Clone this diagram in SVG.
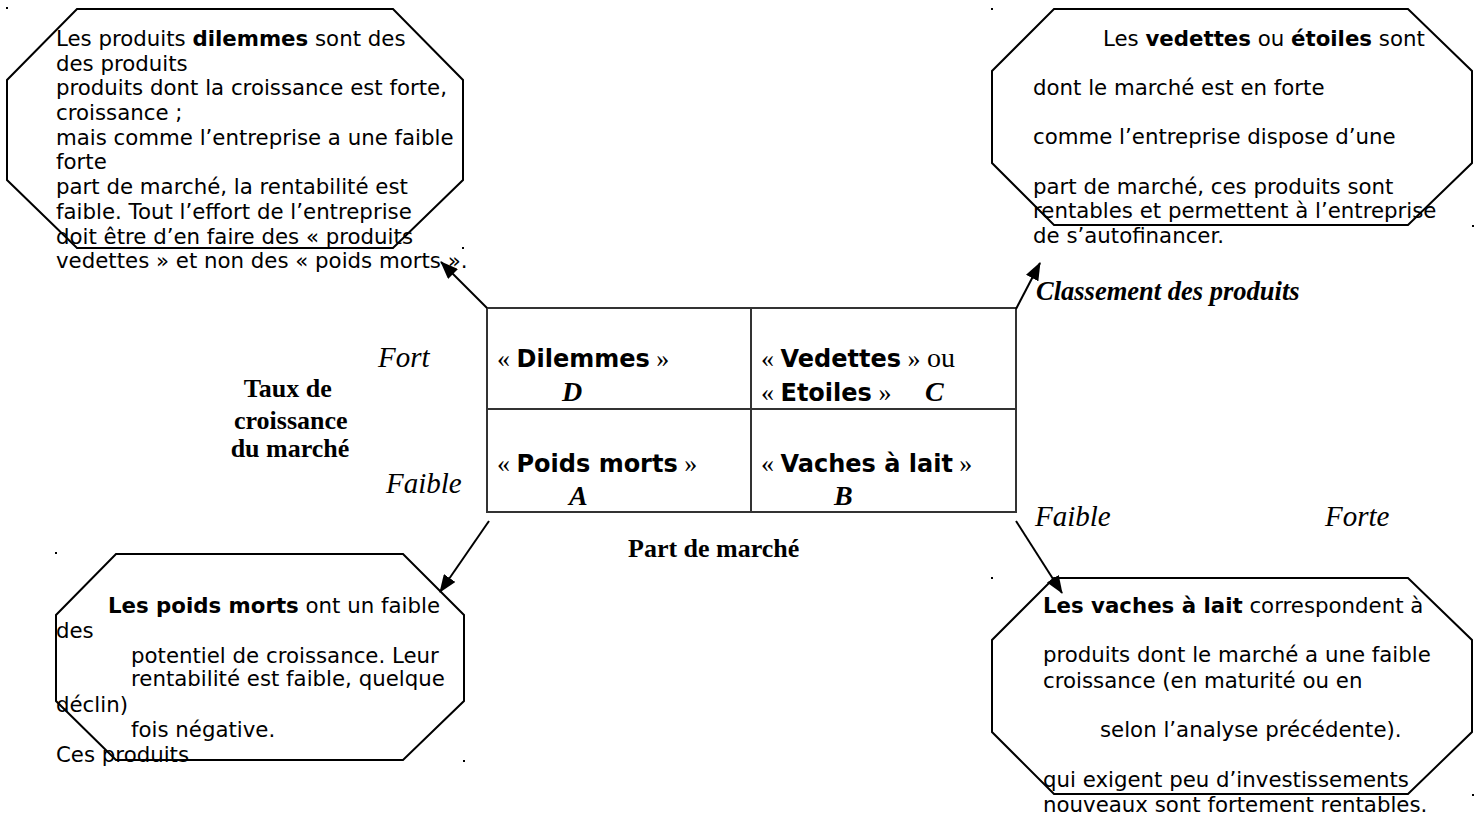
<svg xmlns="http://www.w3.org/2000/svg" width="1480" height="817" viewBox="0 0 1480 817">
<defs>
<style>
.oct{fill:none;stroke:#000;stroke-width:2}
.body{font-family:"DejaVu Sans",Verdana,sans-serif;font-size:21.3px;fill:#000}
.b{font-weight:bold}
.ser{font-family:"Liberation Serif","Times New Roman",serif;fill:#000}
.grid{fill:none;stroke:#333;stroke-width:2}
.conn{stroke:#000;stroke-width:2;fill:none}
.mx{font-family:"DejaVu Sans",Verdana,sans-serif;font-weight:bold;font-size:24px}
.dot{fill:#000}
</style>
<marker id="ah" viewBox="0 0 18 14" refX="17" refY="7" markerWidth="18" markerHeight="14" markerUnits="userSpaceOnUse" orient="auto">
<path d="M0,0 L18,7 L0,14 Z" fill="#000"/>
</marker>
</defs>
<rect width="1480" height="817" fill="#fff"/>

<g id="dots">
<rect class="dot" x="6" y="7" width="2" height="2"/>
<rect class="dot" x="462" y="247" width="2" height="2"/>
<rect class="dot" x="991" y="8" width="2" height="2"/>
<rect class="dot" x="1472" y="225" width="2" height="2"/>
<rect class="dot" x="55" y="552" width="2" height="2"/>
<rect class="dot" x="463" y="760" width="2" height="2"/>
<rect class="dot" x="991" y="577" width="2" height="2"/>
<rect class="dot" x="1472" y="794" width="2" height="2"/>
</g>

<g id="dilemmes-note">
<polygon class="oct" points="77,9 393,9 463,80 463,180 393,248 77,248 7,180 7,80"/>
<text class="body">
<tspan x="56" y="46">Les produits <tspan class="b">dilemmes</tspan> sont des</tspan>
<tspan x="56" y="71">des produits</tspan>
<tspan x="56" y="95">produits dont la croissance est forte,</tspan>
<tspan x="56" y="120">croissance ;</tspan>
<tspan x="56" y="145">mais comme l’entreprise a une faible</tspan>
<tspan x="56" y="169">forte</tspan>
<tspan x="56" y="194">part de marché, la rentabilité est</tspan>
<tspan x="56" y="219">faible. Tout l’effort de l’entreprise</tspan>
<tspan x="56" y="244">doit être d’en faire des « produits</tspan>
<tspan x="56" y="268">vedettes » et non des « poids morts ».</tspan>
</text>
</g>

<g id="vedettes-note">
<polygon class="oct" points="1054,9 1408,9 1472,71 1472,163 1408,225 1054,225 992,163 992,71"/>
<text class="body">
<tspan x="1103" y="46">Les <tspan class="b">vedettes</tspan> ou <tspan class="b">étoiles</tspan> sont</tspan>
<tspan x="1033" y="95">dont le marché est en forte</tspan>
<tspan x="1033" y="144">comme l’entreprise dispose d’une</tspan>
<tspan x="1033" y="194">part de marché, ces produits sont</tspan>
<tspan x="1033" y="218">rentables et permettent à l’entreprise</tspan>
<tspan x="1033" y="243">de s’autofinancer.</tspan>
</text>
</g>

<g id="poids-morts-note">
<polygon class="oct" points="116,554 403,554 464,615 464,701 403,760 116,760 56,701 56,615"/>
<text class="body">
<tspan x="108" y="613"><tspan class="b">Les poids morts</tspan> ont un faible</tspan>
<tspan x="56" y="638">des</tspan>
<tspan x="131" y="663">potentiel de croissance. Leur</tspan>
<tspan x="131" y="686">rentabilité est faible, quelque</tspan>
<tspan x="56" y="712">déclin)</tspan>
<tspan x="131" y="737">fois négative.</tspan>
<tspan x="56" y="762">Ces produits</tspan>
</text>
</g>

<g id="vaches-note">
<polygon class="oct" points="1054,578 1408,578 1472,640 1472,732 1408,794 1054,794 992,732 992,640"/>
<text class="body">
<tspan x="1043" y="613"><tspan class="b">Les vaches à lait</tspan> correspondent à</tspan>
<tspan x="1043" y="662">produits dont le marché a une faible</tspan>
<tspan x="1043" y="688">croissance (en maturité ou en</tspan>
<tspan x="1100" y="737">selon l’analyse précédente).</tspan>
<tspan x="1043" y="787">qui exigent peu d’investissements</tspan>
<tspan x="1043" y="812">nouveaux sont fortement rentables.</tspan>
</text>
</g>

<g id="matrix">
<rect class="grid" x="487" y="308" width="529" height="204"/>
<line class="grid" x1="751" y1="308" x2="751" y2="512"/>
<line class="grid" x1="487" y1="409" x2="1016" y2="409"/>
<text class="ser" font-size="26" x="497" y="367">« <tspan class="mx">Dilemmes</tspan> »</text>
<text class="ser" font-size="28" font-weight="bold" font-style="italic" x="562" y="401">D</text>
<text class="ser" font-size="26" x="761" y="367">« <tspan class="mx">Vedettes</tspan> » <tspan font-size="28">ou</tspan></text>
<text class="ser" font-size="26" x="761" y="401">« <tspan class="mx">Etoiles</tspan> »</text>
<text class="ser" font-size="28" font-weight="bold" font-style="italic" x="925" y="401">C</text>
<text class="ser" font-size="26" x="497" y="472">« <tspan class="mx">Poids morts</tspan> »</text>
<text class="ser" font-size="28" font-weight="bold" font-style="italic" x="569" y="505">A</text>
<text class="ser" font-size="26" x="761" y="472">« <tspan class="mx">Vaches à lait</tspan> »</text>
<text class="ser" font-size="28" font-weight="bold" font-style="italic" x="834" y="505">B</text>
</g>

<g id="axis-labels">
<text class="ser" font-size="29" font-style="italic" x="378" y="367">Fort</text>
<text class="ser" font-size="29" font-style="italic" x="386" y="493">Faible</text>
<text class="ser" font-size="26" font-weight="bold" text-anchor="middle">
<tspan x="291" y="397">Taux de</tspan>
<tspan x="294" y="429">croissance</tspan>
<tspan x="290" y="457">du marché</tspan>
</text>
<text class="ser" font-size="26" font-weight="bold" x="628" y="557">Part de marché</text>
<text class="ser" font-size="29" font-style="italic" x="1035" y="526">Faible</text>
<text class="ser" font-size="29" font-style="italic" x="1325" y="526">Forte</text>
<text class="ser" font-size="26.5" font-weight="bold" font-style="italic" x="1036" y="300">Classement des produits</text>
</g>

<g id="connectors">
<line class="conn" x1="487" y1="308" x2="441" y2="262" marker-end="url(#ah)"/>
<line class="conn" x1="1016" y1="309" x2="1040" y2="263" marker-end="url(#ah)"/>
<line class="conn" x1="489" y1="521" x2="440" y2="592" marker-end="url(#ah)"/>
<line class="conn" x1="1016" y1="521" x2="1062" y2="593" marker-end="url(#ah)"/>
</g>
</svg>
